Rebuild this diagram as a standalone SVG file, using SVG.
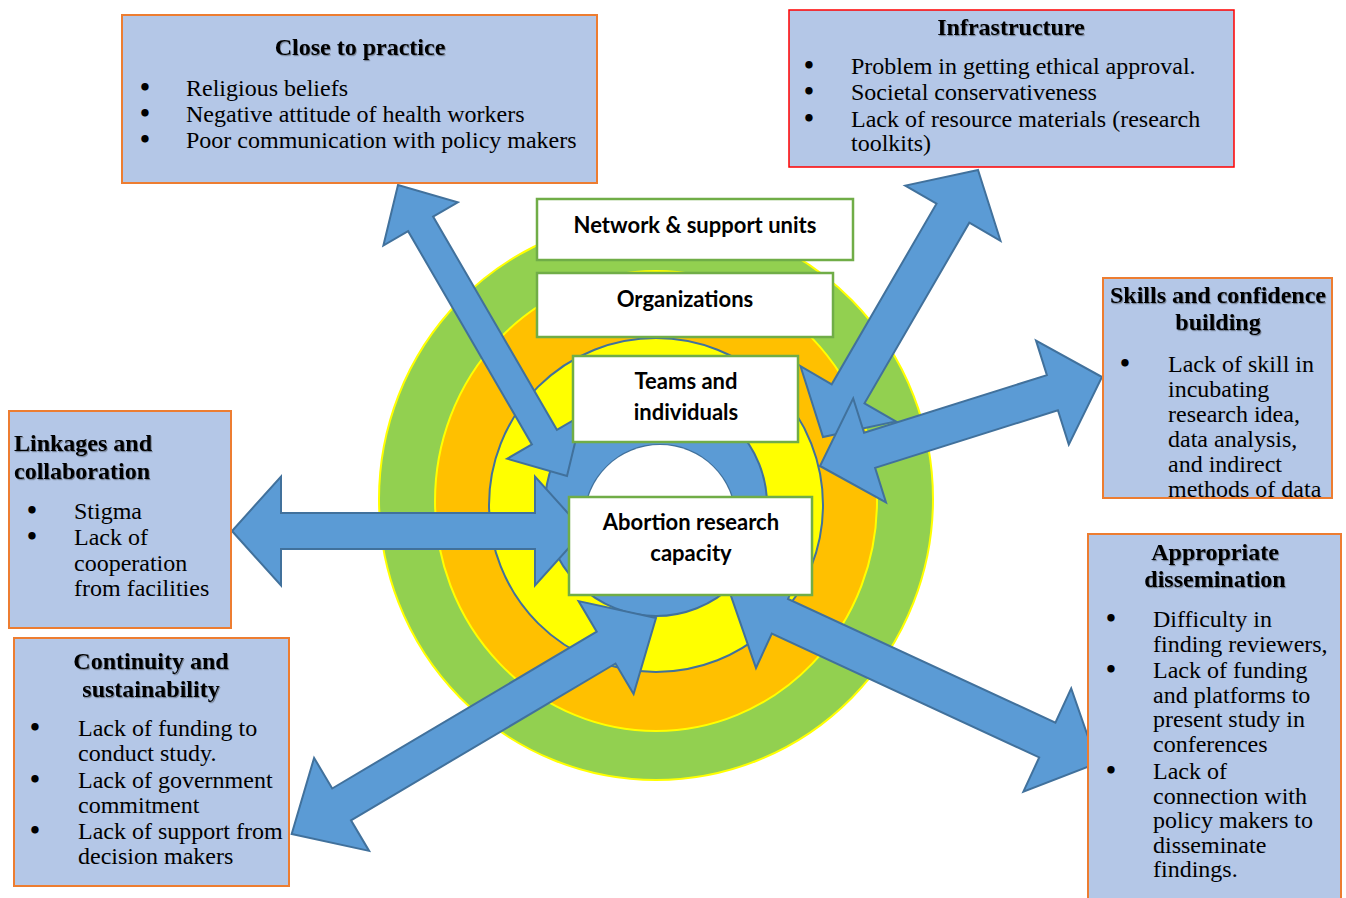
<svg xmlns="http://www.w3.org/2000/svg" width="1346" height="898" viewBox="0 0 1346 898">
<defs>
<filter id="sh" x="-5%" y="-20%" width="110%" height="150%">
<feDropShadow dx="1" dy="1.2" stdDeviation="0.6" flood-color="#000" flood-opacity="0.35"/>
</filter>
</defs>
<style>
.box{fill:#B4C7E7;stroke:#ED7D31;stroke-width:2}
.red{stroke:#FF0000;stroke-width:1.5}
.t{font-family:"Liberation Serif","Times New Roman",serif;font-size:24px;fill:#000}
.b{font-family:"DejaVu Sans",sans-serif;font-size:21px;font-weight:bold;fill:#000;text-anchor:middle}
.h{font-weight:bold;filter:url(#sh)}
.c{text-anchor:middle}
.g{fill:#FFFFFF;stroke:#70AD47;stroke-width:2.5}
.gt{font-family:Lato,"Liberation Sans",sans-serif;font-weight:bold;font-size:22px;text-anchor:middle;fill:#000}
.arr{fill:#5B9BD5;stroke:#41719C;stroke-width:2;stroke-linejoin:miter}
</style>
<rect width="1346" height="898" fill="#FFFFFF"/>

<g id="rings">
<ellipse cx="656" cy="499" rx="277" ry="281" fill="#92D050" stroke="#FFFF00" stroke-width="2"/>
<ellipse cx="656" cy="501" rx="221" ry="230" fill="#FFC000" stroke="#FFFF00" stroke-width="2"/>
<circle cx="656" cy="505" r="167" fill="#FFFF00" stroke="#41719C" stroke-width="2"/>
<path d="M545,505 A111,111 0 1,0 767,505 A111,111 0 1,0 545,505 Z M585,519 A75,74 0 1,1 735,519 A75,74 0 1,1 585,519 Z" fill="#5B9BD5" fill-rule="evenodd" stroke="#41719C" stroke-width="2"/>
<ellipse cx="660" cy="519" rx="75" ry="74" fill="#FFFFFF"/>
</g>

<g id="connectors">
<polygon class="arr" points="232,531 281,585.5 281,549 535,549 535,585.5 584,531 535,476.5 535,513 281,513 281,476.5"/>
<polygon class="arr" points="398,185 383.4,245.5 408.1,231.2 531.9,444.4 507.2,458.7 567,476 581.6,415.5 556.9,429.8 433.1,216.6 457.8,202.3"/>
<polygon class="arr" points="291.7,834 369.1,850.9 351,820.3 615.5,663.5 633.6,694.1 656,618 578.6,601.1 596.7,631.7 332.2,788.5 314.1,757.9"/>
<polygon class="arr" points="730,593.2 756,668 771.8,633.7 1039.2,757.4 1023.4,791.7 1097.2,763.1 1071.2,688.3 1055.4,722.6 788,598.9 803.8,564.6"/>
<polygon class="arr" points="978,170 905.3,185.6 936.5,203.7 831.7,384.3 800.5,366.2 823,437 895.7,421.4 864.5,403.3 969.3,222.7 1000.5,240.8"/>
<polygon class="arr" points="820,466 886,502.35 875.1,467.9 1057.9,410.2 1068.8,444.65 1102,377 1036,340.65 1046.9,375.1 864.1,432.8 853.2,398.35"/>
</g>

<g id="network">
<rect class="g" x="537" y="199" width="316" height="61"/>
<text class="gt" x="695" y="233">Network &amp; support units</text>
</g>
<g id="organizations">
<rect class="g" x="537" y="273" width="296" height="64"/>
<text class="gt" x="685" y="307">Organizations</text>
</g>
<g id="teams">
<rect class="g" x="573" y="356" width="225" height="86"/>
<text class="gt" x="686" y="389">Teams and</text>
<text class="gt" x="686" y="420">individuals</text>
</g>
<g id="capacity">
<rect class="g" x="569" y="497" width="243" height="98"/>
<text class="gt" x="691" y="530">Abortion research</text>
<text class="gt" x="691" y="561">capacity</text>
</g>

<g id="close-to-practice">
<rect class="box" x="122" y="15" width="475" height="168"/>
<text class="t h c" x="360" y="55">Close to practice</text>
<text class="b" x="145" y="95">•</text><text class="t" x="186" y="96">Religious beliefs</text>
<text class="b" x="145" y="121">•</text><text class="t" x="186" y="122">Negative attitude of health workers</text>
<text class="b" x="145" y="147">•</text><text class="t" x="186" y="148">Poor communication with policy makers</text>
</g>

<g id="infrastructure">
<rect class="box red" x="789" y="10" width="445" height="157"/>
<text class="t h c" x="1011" y="35">Infrastructure</text>
<text class="b" x="809" y="73">•</text><text class="t" x="851" y="74">Problem in getting ethical approval.</text>
<text class="b" x="809" y="99">•</text><text class="t" x="851" y="100">Societal conservativeness</text>
<text class="b" x="809" y="126">•</text><text class="t" x="851" y="127">Lack of resource materials (research</text>
<text class="t" x="851" y="151">toolkits)</text>
</g>

<g id="skills">
<rect class="box" x="1103" y="278" width="229" height="220"/>
<text class="t h c" x="1218" y="303">Skills and confidence</text>
<text class="t h c" x="1218" y="330">building</text>
<text class="b" x="1125" y="371">•</text>
<text class="t" x="1168" y="372">Lack of skill in</text>
<text class="t" x="1168" y="397">incubating</text>
<text class="t" x="1168" y="422">research idea,</text>
<text class="t" x="1168" y="447">data analysis,</text>
<text class="t" x="1168" y="472">and indirect</text>
<text class="t" x="1168" y="497">methods of data</text>
</g>

<g id="linkages">
<rect class="box" x="9" y="411" width="222" height="217"/>
<text class="t h" x="14" y="451">Linkages and</text>
<text class="t h" x="14" y="479">collaboration</text>
<text class="b" x="32" y="518">•</text><text class="t" x="74" y="519">Stigma</text>
<text class="b" x="32" y="544">•</text><text class="t" x="74" y="545">Lack of</text>
<text class="t" x="74" y="571">cooperation</text>
<text class="t" x="74" y="596">from facilities</text>
</g>

<g id="continuity">
<rect class="box" x="14" y="638" width="275" height="248"/>
<text class="t h c" x="151" y="669">Continuity and</text>
<text class="t h c" x="151" y="697">sustainability</text>
<text class="b" x="35" y="735">•</text><text class="t" x="78" y="736">Lack of funding to</text>
<text class="t" x="78" y="761">conduct study.</text>
<text class="b" x="35" y="787">•</text><text class="t" x="78" y="788">Lack of government</text>
<text class="t" x="78" y="813">commitment</text>
<text class="b" x="35" y="838">•</text><text class="t" x="78" y="839">Lack of support from</text>
<text class="t" x="78" y="864">decision makers</text>
</g>

<g id="dissemination">
<rect class="box" x="1088" y="534" width="253" height="380"/>
<text class="t h c" x="1215" y="560">Appropriate</text>
<text class="t h c" x="1215" y="587">dissemination</text>
<text class="b" x="1111" y="626">•</text><text class="t" x="1153" y="627">Difficulty in</text>
<text class="t" x="1153" y="652">finding reviewers,</text>
<text class="b" x="1111" y="677">•</text><text class="t" x="1153" y="678">Lack of funding</text>
<text class="t" x="1153" y="703">and platforms to</text>
<text class="t" x="1153" y="727">present study in</text>
<text class="t" x="1153" y="752">conferences</text>
<text class="b" x="1111" y="778">•</text><text class="t" x="1153" y="779">Lack of</text>
<text class="t" x="1153" y="804">connection with</text>
<text class="t" x="1153" y="828">policy makers to</text>
<text class="t" x="1153" y="853">disseminate</text>
<text class="t" x="1153" y="877">findings.</text>
</g>
</svg>
